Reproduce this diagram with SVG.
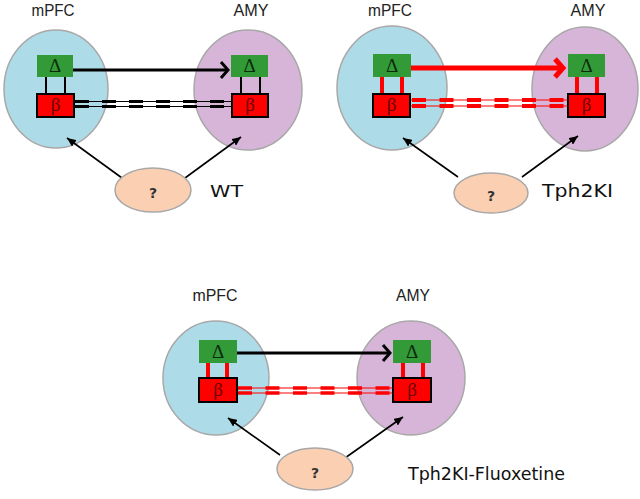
<svg xmlns="http://www.w3.org/2000/svg" width="640" height="499" viewBox="0 0 640 499">
<defs>
<style>
.bg{fill:#fff}
.pfc{fill:#aedbe8;stroke:#a8a8a8;stroke-width:1.5}
.amy{fill:#d7b5d8;stroke:#a8a8a8;stroke-width:1.5}
.q{fill:#fbcfb1;stroke:#a8a8a8;stroke-width:1.5}
.g{fill:#339a38}
.r{fill:#ff0000;stroke:#000;stroke-width:2}
.sym{font-family:"Liberation Serif","DejaVu Serif",serif;font-size:19px;text-anchor:middle}
.d{fill:#0d2a0d}
.b{fill:#6a0000}
.lab{font-family:"Liberation Sans",Arial,sans-serif;font-size:17px;fill:#222;text-anchor:middle}
.cond{font-family:"DejaVu Sans","Liberation Sans",sans-serif;fill:#111}
.qt{font-family:"DejaVu Sans","Liberation Sans",sans-serif;font-size:14px;font-weight:bold;fill:#333;text-anchor:middle}
.thin{stroke-width:1;fill:none}
.vk{stroke:#000;stroke-width:2}
.vr{stroke:#f00;stroke-width:4}
.ptr{stroke:#000;stroke-width:1.6;fill:none;marker-end:url(#small)}
</style>
<marker id="chevK" markerUnits="userSpaceOnUse" markerWidth="14" markerHeight="22" refX="10" refY="11" orient="auto">
<path d="M3,3 L10,11 L3,19" fill="none" stroke="#000" stroke-width="3"/>
</marker>
<marker id="chevR" markerUnits="userSpaceOnUse" markerWidth="16" markerHeight="26" refX="12" refY="13" orient="auto">
<path d="M4,4 L12,13 L4,22" fill="none" stroke="#f00" stroke-width="5"/>
</marker>
<marker id="small" markerUnits="userSpaceOnUse" markerWidth="10" markerHeight="8" refX="9" refY="4" orient="auto">
<path d="M0,0 L9,4 L0,8 z" fill="#000"/>
</marker>
</defs>
<rect class="bg" x="0" y="0" width="640" height="499"/>

<!-- Regions -->
<g id="wt-mpfc"><ellipse class="pfc" cx="56" cy="89" rx="52" ry="59"/><text class="lab" x="53" y="16" textLength="43" lengthAdjust="spacingAndGlyphs">mPFC</text></g>
<g id="wt-amy"><ellipse class="amy" cx="248" cy="90" rx="54" ry="60"/><text class="lab" x="251" y="16" textLength="35" lengthAdjust="spacingAndGlyphs">AMY</text></g>
<g id="ki-mpfc"><ellipse class="pfc" cx="392" cy="88" rx="55" ry="62"/><text class="lab" x="390" y="16" textLength="44" lengthAdjust="spacingAndGlyphs">mPFC</text></g>
<g id="ki-amy"><ellipse class="amy" cx="585" cy="89" rx="53" ry="62"/><text class="lab" x="588" y="16" textLength="35" lengthAdjust="spacingAndGlyphs">AMY</text></g>
<g id="fl-mpfc"><ellipse class="pfc" cx="216" cy="378" rx="53" ry="57"/><text class="lab" x="215" y="301" textLength="45" lengthAdjust="spacingAndGlyphs">mPFC</text></g>
<g id="fl-amy"><ellipse class="amy" cx="411" cy="378" rx="54" ry="57"/><text class="lab" x="413" y="301" textLength="34" lengthAdjust="spacingAndGlyphs">AMY</text></g>

<!-- Connectors -->
<g id="connectors">
<!-- WT -->
<line class="vk" x1="46" y1="77" x2="46" y2="94"/>
<line class="vk" x1="65" y1="77" x2="65" y2="94"/>
<line class="vk" x1="241" y1="77" x2="241" y2="94"/>
<line class="vk" x1="260" y1="77" x2="260" y2="94"/>
<line x1="73" y1="70" x2="228" y2="70" stroke="#000" stroke-width="3" marker-end="url(#chevK)"/>
<g stroke="#000">
<line class="thin" x1="74" y1="101.5" x2="232" y2="101.5"/>
<line class="thin" x1="74" y1="106.5" x2="232" y2="106.5"/>
<line x1="75" y1="101.5" x2="232" y2="101.5" stroke-width="3" stroke-dasharray="14 13"/>
<line x1="75" y1="106.5" x2="232" y2="106.5" stroke-width="3" stroke-dasharray="14 13"/>
</g>
<line class="ptr" x1="122" y1="178" x2="67" y2="138"/>
<line class="ptr" x1="185" y1="178" x2="241" y2="137"/>
<!-- Tph2KI -->
<line class="vr" x1="382" y1="77" x2="382" y2="94"/>
<line class="vr" x1="402" y1="77" x2="402" y2="94"/>
<line class="vr" x1="577" y1="77" x2="577" y2="94"/>
<line class="vr" x1="597" y1="77" x2="597" y2="94"/>
<line x1="411" y1="68" x2="563" y2="68" stroke="#f00" stroke-width="5" marker-end="url(#chevR)"/>
<g stroke="#f00">
<line class="thin" x1="410" y1="100" x2="568" y2="100"/>
<line class="thin" x1="410" y1="106" x2="568" y2="106"/>
<line x1="412" y1="100" x2="568" y2="100" stroke-width="4" stroke-dasharray="14 13.5"/>
<line x1="412" y1="106" x2="568" y2="106" stroke-width="4" stroke-dasharray="14 13.5"/>
</g>
<line class="ptr" x1="458" y1="177" x2="403" y2="138"/>
<line class="ptr" x1="522" y1="177" x2="578" y2="136"/>
<!-- Fluoxetine -->
<line class="vr" x1="208" y1="363" x2="208" y2="378"/>
<line class="vr" x1="227" y1="363" x2="227" y2="378"/>
<line class="vr" x1="403" y1="363" x2="403" y2="378"/>
<line class="vr" x1="423" y1="363" x2="423" y2="378"/>
<line x1="237" y1="353" x2="390" y2="353" stroke="#000" stroke-width="3" marker-end="url(#chevK)"/>
<g stroke="#f00">
<line class="thin" x1="237" y1="388" x2="393" y2="388"/>
<line class="thin" x1="237" y1="393" x2="393" y2="393"/>
<line x1="238" y1="388" x2="393" y2="388" stroke-width="3.5" stroke-dasharray="14 13.5"/>
<line x1="238" y1="393" x2="393" y2="393" stroke-width="3.5" stroke-dasharray="14 13.5"/>
</g>
<line class="ptr" x1="280" y1="455" x2="228" y2="418"/>
<line class="ptr" x1="345" y1="458" x2="403" y2="417"/>
</g>

<!-- Boxes -->
<g id="wt-pfc-delta"><rect class="g" x="37" y="55" width="36" height="22"/><text class="sym d" x="55" y="72">Δ</text></g>
<g id="wt-pfc-beta"><rect class="r" x="37" y="94" width="37" height="23"/><text class="sym b" x="55.5" y="111">β</text></g>
<g id="wt-amy-delta"><rect class="g" x="231" y="55" width="37" height="22"/><text class="sym d" x="249.5" y="72">Δ</text></g>
<g id="wt-amy-beta"><rect class="r" x="232" y="94" width="36" height="23"/><text class="sym b" x="250" y="111">β</text></g>

<g id="ki-pfc-delta"><rect class="g" x="373" y="54" width="38" height="23"/><text class="sym d" x="392" y="72">Δ</text></g>
<g id="ki-pfc-beta"><rect class="r" x="373" y="94" width="37" height="23"/><text class="sym b" x="391.5" y="111">β</text></g>
<g id="ki-amy-delta"><rect class="g" x="568" y="54" width="37" height="23"/><text class="sym d" x="586.5" y="72">Δ</text></g>
<g id="ki-amy-beta"><rect class="r" x="568" y="94" width="37" height="23"/><text class="sym b" x="586.5" y="111">β</text></g>

<g id="fl-pfc-delta"><rect class="g" x="199" y="340" width="38" height="23"/><text class="sym d" x="218" y="358">Δ</text></g>
<g id="fl-pfc-beta"><rect class="r" x="199" y="378" width="38" height="24"/><text class="sym b" x="218" y="396">β</text></g>
<g id="fl-amy-delta"><rect class="g" x="393" y="340" width="38" height="23"/><text class="sym d" x="412" y="358">Δ</text></g>
<g id="fl-amy-beta"><rect class="r" x="393" y="378" width="38" height="24"/><text class="sym b" x="412" y="396">β</text></g>

<!-- Unknown sources -->
<g id="wt-q"><ellipse class="q" cx="153" cy="190" rx="38" ry="22"/><text class="qt" x="153" y="198">?</text></g>
<g id="ki-q"><ellipse class="q" cx="491" cy="193" rx="37" ry="20"/><text class="qt" x="491" y="201">?</text></g>
<g id="fl-q"><ellipse class="q" cx="315" cy="469" rx="38" ry="21"/><text class="qt" x="315" y="478">?</text></g>

<!-- Condition labels -->
<text class="cond" x="210" y="197" font-size="15" textLength="33" lengthAdjust="spacingAndGlyphs">WT</text>
<text class="cond" x="542" y="197" font-size="17" textLength="71" lengthAdjust="spacingAndGlyphs">Tph2KI</text>
<text class="cond" x="408" y="480" font-size="17" textLength="157" lengthAdjust="spacingAndGlyphs">Tph2KI-Fluoxetine</text>
</svg>
